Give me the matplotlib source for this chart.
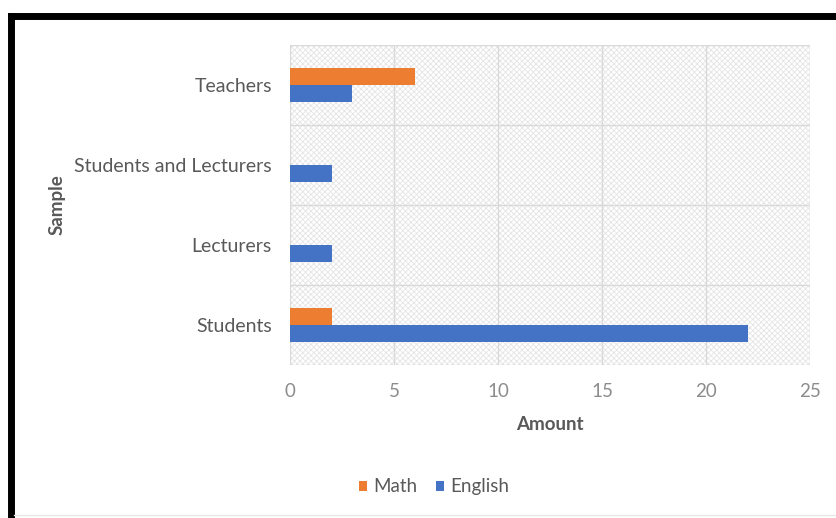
import numpy as np
import matplotlib.pyplot as plt
from matplotlib.patches import Rectangle
from matplotlib.lines import Line2D

# data
categories = ['Students', 'Lecturers', 'Students and Lecturers', 'Teachers']
math_vals = [2, 0, 0, 6]
english_vals = [22, 2, 2, 3]
x_ticks = [0, 5, 10, 15, 20, 25]

plt.rcParams['font.family'] = ['Lato', 'DejaVu Sans']
plt.rcParams['hatch.linewidth'] = 0.6
plt.rcParams['hatch.color'] = '#e4e4e4'

fig = plt.figure(figsize=(8.37, 5.18), dpi=100)
ax = fig.add_axes([290 / 837, 1 - 365 / 518, 520 / 837, 320 / 518])

# hatched plot-area background
ax.add_patch(Rectangle((0, 0), 1, 1, transform=ax.transAxes, facecolor='white',
                       edgecolor='#e4e4e4', hatch='xxxxxx', linewidth=0, zorder=0))

y = np.arange(len(categories))
h = 0.2125
ax.barh(y + h / 2, math_vals, height=h, color='#ed7d31', label='Math', zorder=3)
ax.barh(y - h / 2, english_vals, height=h, color='#4472c4', label='English', zorder=3)

ax.set_xlim(0, 25)
ax.set_ylim(-0.5, len(categories) - 0.5)
ax.set_xticks(x_ticks)
ax.set_xticklabels([str(t) for t in x_ticks], fontsize=13.5, color='#8c8c8c')
ax.set_yticks(y)
ax.set_yticklabels(categories, fontsize=14, color='#595959')
ax.tick_params(axis='x', length=0, pad=13)
ax.tick_params(axis='y', length=0, pad=13)

for xv in x_ticks:
    ax.axvline(xv, color='#d9d9d9', linewidth=1, zorder=1)
for yv in np.arange(-0.5, len(categories), 1.0):
    ax.axhline(yv, color='#d9d9d9', linewidth=1, zorder=1)
for s in ax.spines.values():
    s.set_visible(False)

ax.set_xlabel('Amount', fontsize=13.5, fontweight='bold', color='#595959')
ax.xaxis.set_label_coords(0.5, -0.1875)
ax.xaxis.label.set_va('center')
ax.set_ylabel('Sample', fontsize=13.5, fontweight='bold', color='#595959')
ax.yaxis.set_label_coords(-0.448, 0.5)
ax.yaxis.label.set_va('center')

ax.legend(loc='center', bbox_to_anchor=(0.277, -0.381), ncol=2, frameon=False,
          fontsize=13.5, labelcolor='#595959', handlelength=0.45, handleheight=0.45,
          handletextpad=0.3, columnspacing=1.0)

# black frame on top and left, faint line at the bottom
fig.add_artist(Line2D([11 / 837, 1], [1 - 16 / 518, 1 - 16 / 518], color='black', linewidth=5))
fig.add_artist(Line2D([11 / 837, 11 / 837], [0, 1 - 16 / 518], color='black', linewidth=5))
fig.add_artist(Line2D([14 / 837, 1], [3 / 518, 3 / 518], color='#e6e6e6', linewidth=1))

fig.savefig('out.png', dpi=100)
